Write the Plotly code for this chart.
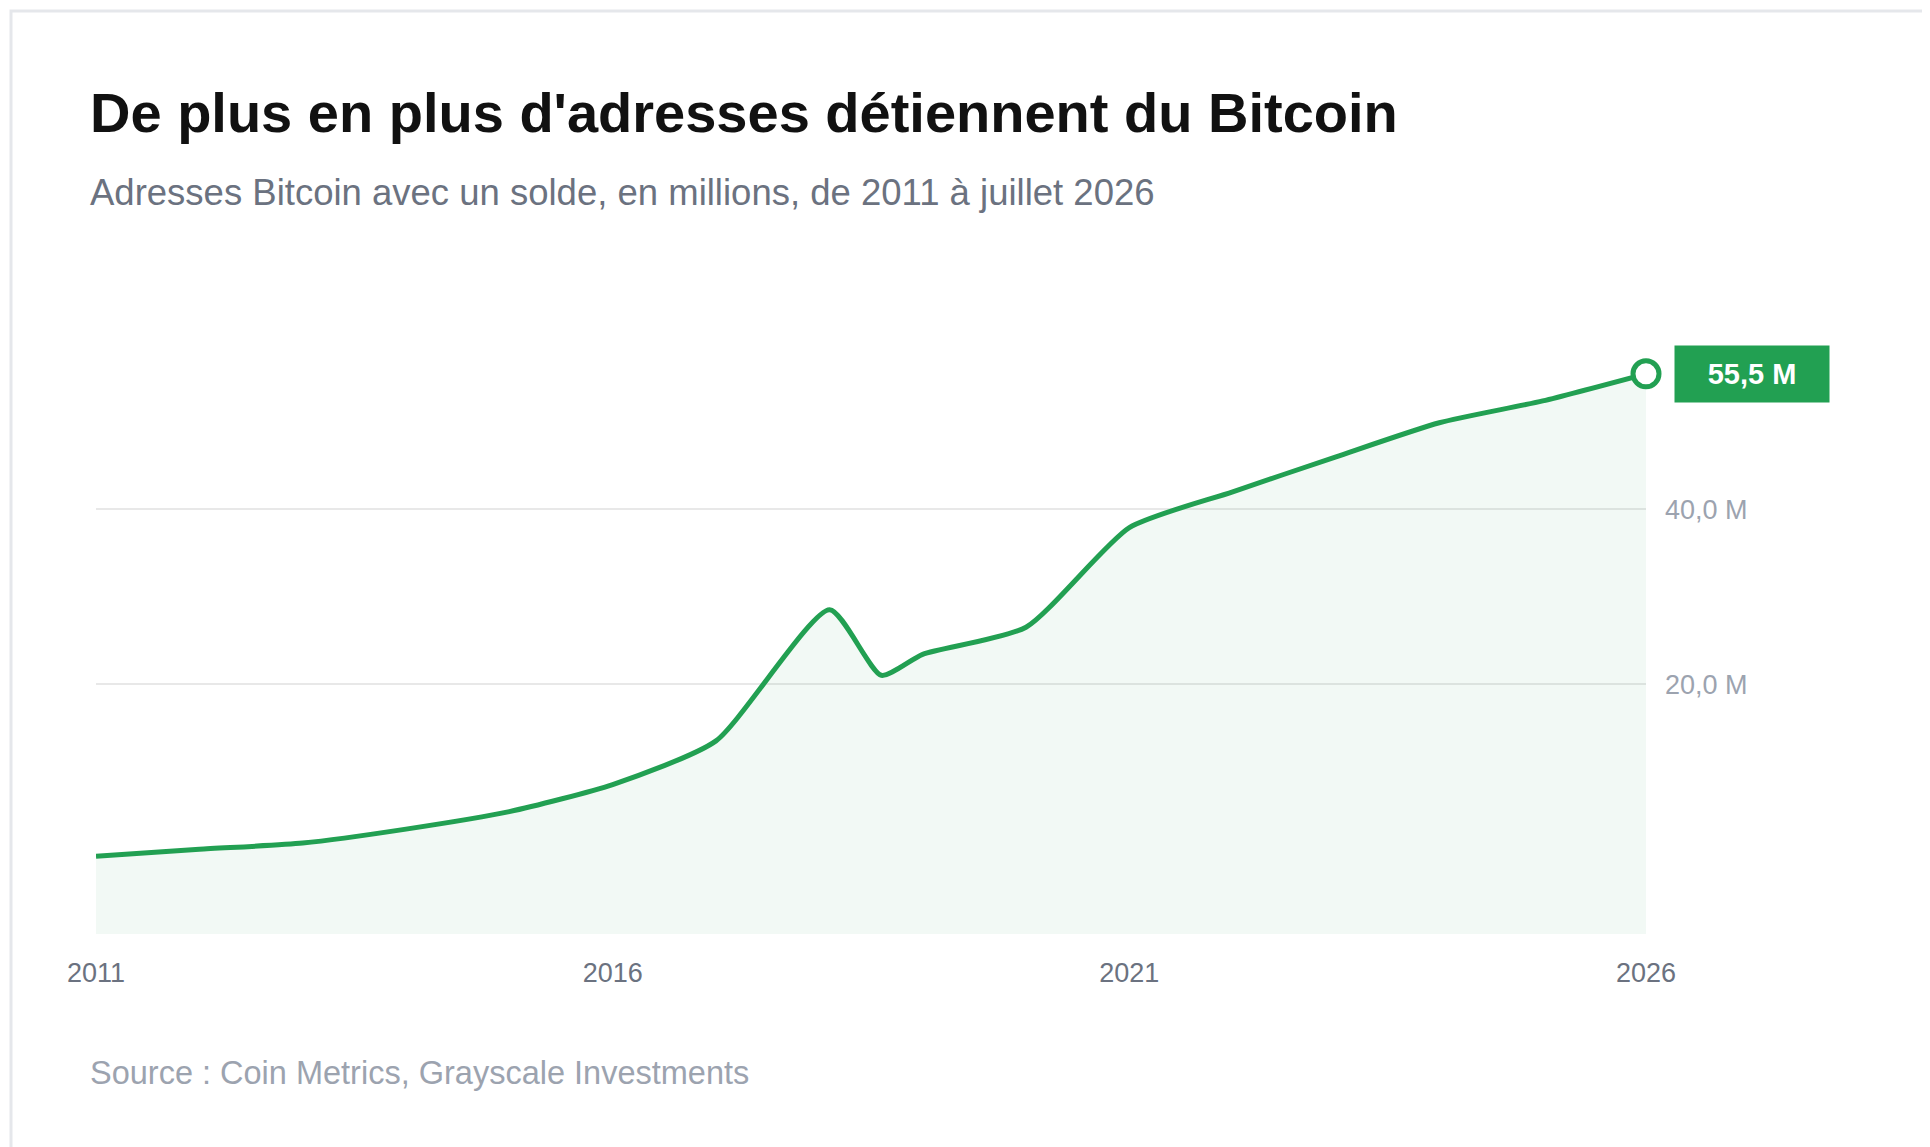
import plotly.graph_objects as go

# Bitcoin addresses with a balance (millions)
years = [2011.0, 2012.0, 2013.0, 2014.0, 2015.0, 2016.0, 2017.0, 2018.1, 2018.6,
         2019.0, 2020.0, 2021.0, 2022.0, 2023.0, 2024.0, 2025.0, 2026.0]
addresses = [0.3, 1.1, 1.8, 3.4, 5.4, 8.5, 13.5, 28.5, 21.0,
             23.4, 26.5, 37.9, 42.0, 46.0, 49.9, 52.4, 55.5]
x_ticks = [2011, 2016, 2021, 2026]
y_ticks = [20, 40]
y_tick_labels = ["20,0 M", "40,0 M"]

GREEN = "#22a052"
Y_MIN, Y_MAX = -8.6, 62
L, R, T, B = 88, 292, 309, 221
PW = 1930 - L - R
PH = 1147 - T - B

fig = go.Figure()

# baseline so the fill reaches the bottom of the plot
fig.add_trace(go.Scatter(x=years, y=[Y_MIN] * len(years), mode="lines",
                         line=dict(width=0), hoverinfo="skip", showlegend=False))
fig.add_trace(go.Scatter(x=years, y=addresses, mode="lines",
                         line=dict(color=GREEN, width=5, shape="spline", smoothing=0.6),
                         fill="tonexty", fillcolor="rgba(34,160,82,0.06)",
                         showlegend=False))
fig.add_trace(go.Scatter(x=[years[-1]], y=[addresses[-1]], mode="markers",
                         marker=dict(size=26, color="white", line=dict(color=GREEN, width=5)),
                         showlegend=False, cliponaxis=False))

fig.add_annotation(x=years[-1], y=addresses[-1], xref="x", yref="y",
                   text="<b>55,5 M</b>", showarrow=False, xanchor="left", xshift=28,
                   font=dict(color="white", size=29, family="Liberation Sans"),
                   bgcolor=GREEN, borderpad=12, width=130)

font = "Liberation Sans, Arial, sans-serif"
fig.update_layout(
    width=1930, height=1147,
    paper_bgcolor="white", plot_bgcolor="white",
    margin=dict(l=L, r=R, t=T, b=B),
    font=dict(family=font),
    xaxis=dict(range=[2011, 2026], tickvals=x_ticks, showgrid=False, zeroline=False,
               showline=False, ticks="", ticklabelstandoff=20,
               tickfont=dict(size=27, color="#6b7280")),
    yaxis=dict(range=[Y_MIN, Y_MAX], side="right", tickvals=y_ticks, ticktext=y_tick_labels,
               showgrid=True, gridcolor="#e8e8e8", gridwidth=2, zeroline=False,
               ticks="", ticklabelstandoff=18, tickfont=dict(size=27, color="#9ca3af")),
)

tx = -8 / PW
fig.add_annotation(text="<b>De plus en plus d'adresses détiennent du Bitcoin</b>",
                   xref="paper", yref="paper", x=tx, y=1.0, xanchor="left",
                   yanchor="middle", yshift=205, showarrow=False,
                   font=dict(size=56, color="#111111"))
fig.add_annotation(text="Adresses Bitcoin avec un solde, en millions, de 2011 à juillet 2026",
                   xref="paper", yref="paper", x=tx, y=1.0, xanchor="left",
                   yanchor="middle", yshift=125, showarrow=False,
                   font=dict(size=36.5, color="#6b7280"))
fig.add_annotation(text="Source : Coin Metrics, Grayscale Investments",
                   xref="paper", yref="paper", x=tx, y=0, xanchor="left",
                   yanchor="middle", yshift=-139, showarrow=False,
                   font=dict(size=32.5, color="#9ca3af"))

# card border
fig.add_shape(type="rect", xref="paper", yref="paper", x0=-(L - 3) / PW, x1=1 + (R - 3) / PW,
              y0=-(B - 3) / PH, y1=1 + (T - 3) / PH, line=dict(color="#e5e7eb", width=3))

fig.write_html("out.html")
